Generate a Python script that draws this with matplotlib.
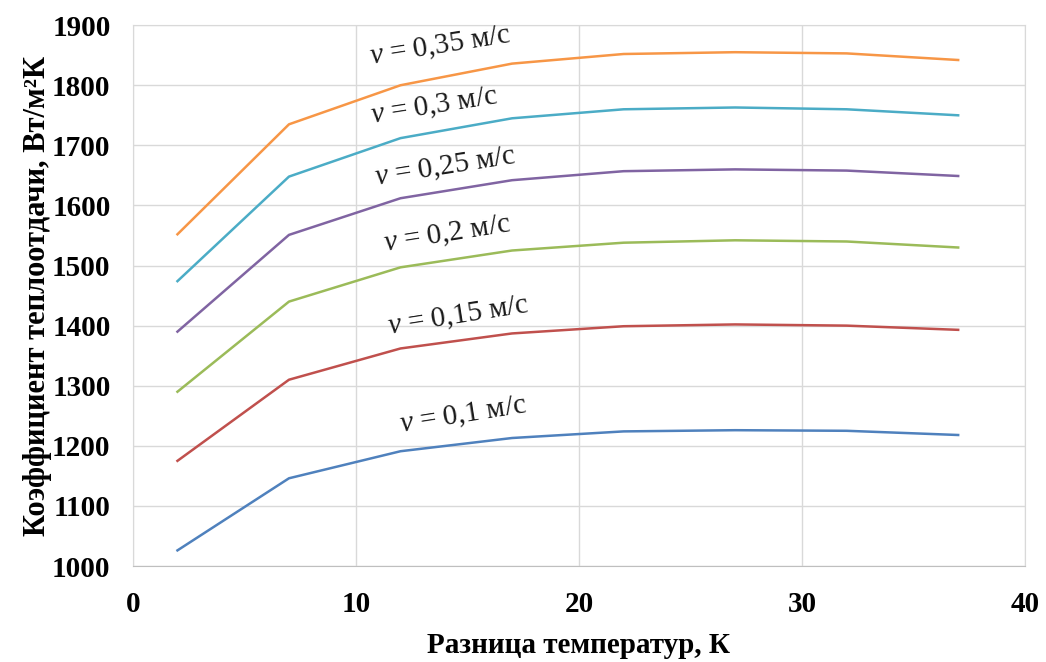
import matplotlib
matplotlib.use("Agg")
import matplotlib.pyplot as plt

plt.rcParams["font.family"] = ["Liberation Serif", "DejaVu Serif"]
plt.rcParams["mathtext.fontset"] = "custom"
plt.rcParams["mathtext.rm"] = "Liberation Serif"
plt.rcParams["mathtext.it"] = "Liberation Serif:italic"

# Temperature difference, K
dt = [2, 7, 12, 17, 22, 27, 32, 37]

# Heat transfer coefficient, W/m2K, per flow velocity
h_010 = [1026, 1146, 1191, 1213, 1224, 1226, 1225, 1218]
h_015 = [1175, 1310, 1362, 1387, 1399, 1402, 1400, 1393]
h_020 = [1290, 1440, 1497, 1525, 1538, 1542, 1540, 1530]
h_025 = [1390, 1551, 1612, 1642, 1657, 1660, 1658, 1649]
h_030 = [1474, 1648, 1712, 1745, 1760, 1763, 1760, 1750]
h_035 = [1552, 1735, 1800, 1836, 1852, 1855, 1853, 1842]

series = [h_010, h_015, h_020, h_025, h_030, h_035]
labels = ["0,1", "0,15", "0,2", "0,25", "0,3", "0,35"]
colors = ["#4F81BD", "#C0504D", "#9BBB59", "#8064A2", "#4BACC6", "#F79646"]
# label centres (x, y) in data units
label_pos = [(14.8, 1250), (14.6, 1416), (14.1, 1551), (14.0, 1664), (13.5, 1764), (13.8, 1864)]

fig = plt.figure(figsize=(10.46, 6.62), dpi=100)
ax = fig.add_axes([0.127, 0.145, 0.853, 0.817])

for h, c in zip(series, colors):
    ax.plot(dt, h, color=c, linewidth=1.8)

for lab, (x, y) in zip(labels, label_pos):
    ax.text(x, y, r"$v$ = " + lab + " м/с", fontsize=21, rotation=9,
            ha="center", va="center", rotation_mode="anchor", color="#1a1a1a")

ax.set_xlim(0, 40)
ax.set_ylim(1000, 1900)
ax.set_xticks([0, 10, 20, 30, 40])
ax.set_yticks(range(1000, 1901, 100))
ax.grid(True, color="#d9d9d9", linewidth=1)
ax.set_axisbelow(True)
for s in ax.spines.values():
    s.set_color("#d9d9d9")
ax.spines["bottom"].set_color("#bfbfbf")
ax.tick_params(axis="both", length=0, labelsize=21)
ax.tick_params(axis="y", pad=16)
ax.tick_params(axis="x", pad=18)
for t in ax.get_xticklabels() + ax.get_yticklabels():
    t.set_fontweight("bold")

ax.set_xlabel("Разница температур, К", fontsize=21, fontweight="bold", labelpad=10)
ax.set_ylabel("Коэффициент теплоотдачи, Вт/м²К", fontsize=22,
              fontweight="bold", labelpad=0)

fig.savefig("out.png", dpi=100)
